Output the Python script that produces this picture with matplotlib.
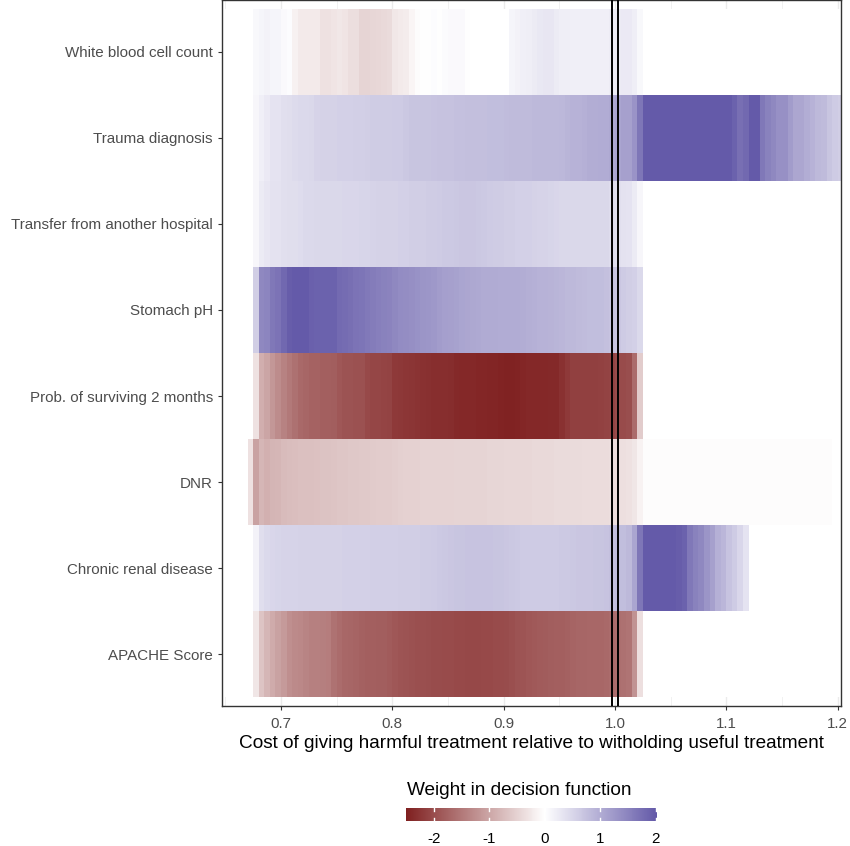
"""Per-feature weight in the decision function across cost ratios (tile heatmap)."""
import matplotlib
matplotlib.use("Agg")
import matplotlib.pyplot as plt  # noqa: E402
import numpy as np  # noqa: E402
from matplotlib.cm import ScalarMappable  # noqa: E402
from matplotlib.colors import LinearSegmentedColormap, Normalize  # noqa: E402

plt.rcParams["font.family"] = ["Liberation Sans", "DejaVu Sans"]
plt.rcParams["axes.unicode_minus"] = False

# features, bottom row first
features = ["APACHE Score", "Chronic renal disease", "DNR",
            "Prob. of surviving 2 months", "Stomach pH",
            "Transfer from another hospital", "Trauma diagnosis",
            "White blood cell count"]

# cost-ratio columns of width 0.005; each row starts at its own left edge
col_width = 0.005
grid_lo, grid_hi = 0.670, 1.205
row_start = [0.675, 0.675, 0.670, 0.675, 0.675, 0.675, 0.675, 0.675]

apache = [
    -0.29, -0.65, -0.82, -0.94, -1.04, -1.13, -1.25, -1.31, -1.33, -1.38,
    -1.41, -1.42, -1.43, -1.45, -1.58, -1.65, -1.70, -1.72, -1.73, -1.76,
    -1.78, -1.79, -1.80, -1.81, -1.83, -1.88, -1.90, -1.92, -1.94, -1.96,
    -1.97, -1.98, -1.99, -2.00, -2.01, -2.02, -2.03, -2.04, -2.05, -2.05,
    -2.05, -2.04, -2.03, -2.02, -2.01, -2.00, -1.96, -1.92, -1.90, -1.88,
    -1.86, -1.84, -1.82, -1.80, -1.79, -1.78, -1.76, -1.74, -1.72, -1.71,
    -1.70, -1.70, -1.69, -1.68, -1.65, -1.60, -1.59, -1.55, -1.20, -0.35]

chronic_renal = [
    0.15, 0.40, 0.46, 0.50, 0.51, 0.52, 0.52, 0.53, 0.54, 0.54,
    0.54, 0.55, 0.55, 0.55, 0.55, 0.55, 0.56, 0.56, 0.57, 0.57,
    0.57, 0.58, 0.58, 0.58, 0.58, 0.58, 0.59, 0.59, 0.59, 0.60,
    0.62, 0.62, 0.63, 0.65, 0.67, 0.69, 0.70, 0.71, 0.72, 0.72,
    0.72, 0.72, 0.72, 0.71, 0.71, 0.69, 0.67, 0.65, 0.64, 0.64,
    0.64, 0.63, 0.63, 0.63, 0.64, 0.65, 0.66, 0.67, 0.68, 0.69,
    0.69, 0.70, 0.70, 0.72, 0.75, 0.80, 0.80, 0.85, 1.10, 1.65,
    2.00, 2.00, 2.00, 2.00, 2.00, 2.00, 1.95, 1.91, 1.64, 1.52,
    1.44, 1.29, 1.14, 0.96, 0.88, 0.72, 0.63, 0.50, 0.34]

dnr = [
    -0.33,
    -1.05, -0.81, -0.89, -0.84, -0.82, -0.76, -0.74, -0.72, -0.71, -0.70,
    -0.70, -0.69, -0.68, -0.68, -0.65, -0.64, -0.63, -0.62, -0.62, -0.61,
    -0.60, -0.58, -0.57, -0.56, -0.56, -0.55, -0.54, -0.52, -0.51, -0.51,
    -0.50, -0.50, -0.50, -0.50, -0.49, -0.49, -0.48, -0.48, -0.47, -0.47,
    -0.47, -0.47, -0.46, -0.46, -0.46, -0.45, -0.45, -0.44, -0.44, -0.44,
    -0.43, -0.43, -0.43, -0.42, -0.41, -0.41, -0.40, -0.40, -0.40, -0.39,
    -0.39, -0.39, -0.39, -0.39, -0.38, -0.36, -0.35, -0.34, -0.28, -0.15,
    -0.03, -0.03, -0.03, -0.03, -0.03, -0.03, -0.03, -0.03, -0.03, -0.03,
    -0.03, -0.03, -0.03, -0.03, -0.03, -0.03, -0.03, -0.03, -0.03, -0.03,
    -0.03, -0.03, -0.03, -0.03, -0.03, -0.03, -0.03, -0.03, -0.03, -0.03,
    -0.03, -0.03, -0.03, -0.03]

prob_survive = [
    -0.33, -0.90, -1.00, -1.17, -1.29, -1.40, -1.50, -1.59, -1.68, -1.72,
    -1.75, -1.75, -1.78, -1.78, -1.80, -1.88, -1.92, -1.92, -1.94, -1.95,
    -2.04, -2.06, -2.06, -2.08, -2.10, -2.20, -2.22, -2.24, -2.26, -2.28,
    -2.30, -2.32, -2.33, -2.33, -2.34, -2.35, -2.38, -2.40, -2.41, -2.41,
    -2.42, -2.42, -2.43, -2.44, -2.45, -2.48, -2.48, -2.45, -2.42, -2.41,
    -2.41, -2.40, -2.40, -2.39, -2.38, -2.29, -2.20, -2.14, -2.13, -2.13,
    -2.13, -2.13, -2.12, -2.10, -2.08, -2.02, -2.02, -1.98, -1.64, -0.56]

stomach_ph = [
    0.60, 1.44, 1.48, 1.64, 1.70, 1.84, 1.95, 2.00, 2.00, 2.00,
    1.93, 1.91, 1.91, 1.91, 1.91, 1.80, 1.78, 1.75, 1.70, 1.68,
    1.62, 1.58, 1.55, 1.52, 1.50, 1.45, 1.39, 1.37, 1.35, 1.33,
    1.29, 1.27, 1.25, 1.20, 1.17, 1.15, 1.12, 1.09, 1.08, 1.06,
    1.04, 1.03, 1.03, 1.02, 1.01, 1.00, 1.00, 1.00, 0.99, 0.97,
    0.95, 0.94, 0.93, 0.92, 0.90, 0.88, 0.85, 0.84, 0.83, 0.81,
    0.80, 0.79, 0.79, 0.76, 0.72, 0.68, 0.63, 0.60, 0.56, 0.45]

transfer = [
    0.11, 0.24, 0.30, 0.35, 0.35, 0.38, 0.41, 0.41, 0.43, 0.45,
    0.45, 0.47, 0.47, 0.47, 0.47, 0.48, 0.50, 0.50, 0.50, 0.51,
    0.51, 0.53, 0.54, 0.54, 0.54, 0.54, 0.56, 0.57, 0.59, 0.59,
    0.60, 0.62, 0.62, 0.64, 0.65, 0.65, 0.67, 0.68, 0.68, 0.68,
    0.67, 0.65, 0.64, 0.62, 0.62, 0.60, 0.59, 0.57, 0.56, 0.56,
    0.54, 0.53, 0.53, 0.51, 0.50, 0.48, 0.48, 0.47, 0.47, 0.47,
    0.47, 0.47, 0.47, 0.47, 0.43, 0.39, 0.36, 0.33, 0.24, 0.11]

trauma = [
    0.10, 0.20, 0.26, 0.33, 0.33, 0.38, 0.41, 0.44, 0.46, 0.46,
    0.48, 0.52, 0.54, 0.54, 0.55, 0.57, 0.57, 0.57, 0.58, 0.58,
    0.60, 0.61, 0.61, 0.62, 0.62, 0.64, 0.64, 0.67, 0.70, 0.70,
    0.70, 0.71, 0.73, 0.74, 0.74, 0.74, 0.75, 0.75, 0.77, 0.78,
    0.78, 0.78, 0.80, 0.80, 0.80, 0.81, 0.83, 0.83, 0.83, 0.83,
    0.84, 0.84, 0.84, 0.84, 0.84, 0.87, 0.90, 0.93, 0.94, 0.96,
    0.99, 0.99, 1.01, 1.01, 1.04, 1.10, 1.15, 1.15, 1.30, 1.65,
    2.00, 2.00, 2.00, 2.00, 2.00, 2.00, 2.00, 2.00, 2.00, 2.00,
    2.00, 2.00, 2.00, 2.00, 2.00, 2.00, 1.90, 1.74, 1.81, 2.00,
    2.00, 1.64, 1.52, 1.44, 1.34, 1.34, 1.20, 1.08, 1.08, 0.98,
    0.94, 0.85, 0.82, 0.70, 0.64, 0.60]

wbc = [
    0.08, 0.13, 0.16, 0.12, 0.12, 0.07, 0.03, -0.16, -0.24, -0.24,
    -0.24, -0.24, -0.34, -0.34, -0.30, -0.27, -0.30, -0.38, -0.38, -0.47,
    -0.47, -0.46, -0.45, -0.43, -0.40, -0.27, -0.24, -0.22, -0.11, -0.04,
    0.02, 0.02, 0.03, 0.02, 0.05, 0.07, 0.07, 0.07, 0.02, 0.00,
    0.00, -0.01, 0.00, 0.00, 0.00, 0.00, 0.13, 0.16, 0.20, 0.21,
    0.25, 0.28, 0.30, 0.30, 0.25, 0.21, 0.21, 0.20, 0.20, 0.20,
    0.20, 0.20, 0.20, 0.20, 0.23, 0.25, 0.26, 0.26, 0.21, 0.08]

rows = [apache, chronic_renal, dnr, prob_survive, stomach_ph, transfer,
        trauma, wbc]

# reference lines either side of cost ratio 1
ref_lines = [0.997, 1.003]
cbar_ticks = [-2, -1, 0, 1, 2]
w_min, w_max = -2.5, 2.02

# diverging scale: dark red - white - slate blue, white pinned at 0
low_col, mid_col, high_col = "#7F2020", "#FFFFFF", "#6359A8"
mid_pos = -w_min / (w_max - w_min)
cmap = LinearSegmentedColormap.from_list(
    "wt", [(0.0, low_col), (mid_pos, mid_col), (1.0, high_col)])
norm = Normalize(vmin=w_min, vmax=w_max)

x_edges = np.round(np.arange(grid_lo, grid_hi + col_width / 2, col_width), 4)
y_edges = np.arange(len(features) + 1) + 0.5
W = np.full((len(features), len(x_edges) - 1), np.nan)
for i, (vals, start) in enumerate(zip(rows, row_start)):
    j0 = int(round((start - grid_lo) / col_width))
    W[i, j0:j0 + len(vals)] = vals

fig = plt.figure(figsize=(8.5, 8.46), dpi=100)
ax = fig.add_axes([222 / 850, 140 / 846, 619 / 850, 706 / 846])

# theme_bw-like grid, hidden under the tile band
ax.set_xticks([0.7, 0.8, 0.9, 1.0, 1.1, 1.2])
ax.set_xticks([0.65, 0.75, 0.85, 0.95, 1.05, 1.15], minor=True)
ax.grid(True, which="major", axis="x", color="#EBEBEB", lw=1.0, zorder=0)
ax.grid(True, which="minor", axis="x", color="#EBEBEB", lw=0.5, zorder=0)
ax.set_axisbelow(True)
ax.axhspan(0.5, len(features) + 0.5, color="white", lw=0, zorder=1)

ax.pcolormesh(x_edges, y_edges, np.ma.masked_invalid(W), cmap=cmap,
              norm=norm, shading="flat", edgecolors="none",
              antialiased=False, zorder=2)
for xv in ref_lines:
    ax.axvline(xv, color="black", lw=1.4, zorder=3)

ax.set_xlim(0.647, 1.203)
ax.set_ylim(0.4, len(features) + 0.6)
ax.set_yticks(np.arange(1, len(features) + 1))
ax.set_yticklabels(features)
ax.set_xticklabels(["0.7", "0.8", "0.9", "1.0", "1.1", "1.2"])
ax.tick_params(axis="both", which="major", length=3, width=0.8,
               color="#333333", labelcolor="#4D4D4D", labelsize=10.9)
ax.tick_params(axis="x", which="major", pad=5)
ax.tick_params(axis="y", which="major", pad=3.5)
ax.tick_params(axis="x", which="minor", length=0)
for sp in ax.spines.values():
    sp.set_color("#333333")
    sp.set_linewidth(1.0)
ax.set_xlabel("Cost of giving harmful treatment relative to witholding useful "
              "treatment", fontsize=13.7, labelpad=2.5)

# legend: title above a horizontal colour bar
fig.text(407 / 850, 1 - 790 / 846, "Weight in decision function",
         ha="left", va="center", fontsize=13.7)
cax = fig.add_axes([406 / 850, 25 / 846, 251 / 850, 13 / 846])
cb = fig.colorbar(ScalarMappable(norm=norm, cmap=cmap), cax=cax,
                  orientation="horizontal")
cb.outline.set_visible(False)
cb.set_ticks(cbar_ticks)
cb.set_ticklabels([str(t) for t in cbar_ticks])
cax.tick_params(length=0, labelsize=10.9, pad=8, labelcolor="black")
for t in cbar_ticks:
    cax.plot([t, t], [0, 0.2], color="white", lw=1,
             transform=cax.get_xaxis_transform())
    cax.plot([t, t], [0.8, 1], color="white", lw=1,
             transform=cax.get_xaxis_transform())

fig.savefig("out.png", dpi=100)
